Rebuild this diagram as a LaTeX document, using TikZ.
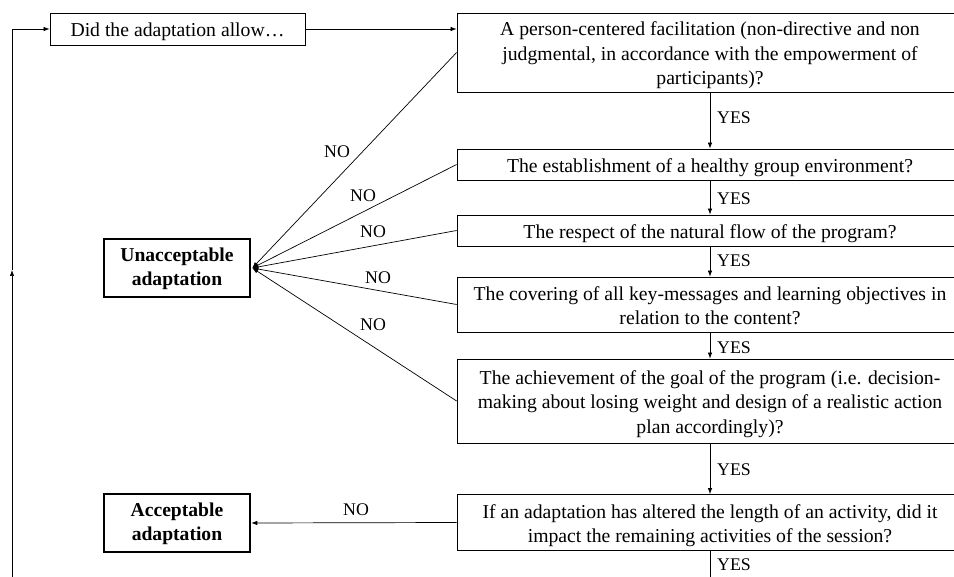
\documentclass[tikz,border=0pt]{standalone}
\usepackage{fontspec}
\setmainfont{Liberation Serif}
\usetikzlibrary{arrows.meta}
\newcommand{\tp}{\rule{0pt}{20pt}}
\newcommand{\bt}{\rule[-4pt]{0pt}{4pt}}
\newcommand{\btp}{\rule{0pt}{16pt}}
\newcommand{\bbt}{\rule[-5pt]{0pt}{5pt}}
\begin{document}
\begin{tikzpicture}[x=1pt,y=-1pt,
  q/.style={draw, line width=0.8pt, minimum width=506pt, align=center, inner sep=0pt, font=\fontsize{19.7}{24.5}\selectfont},
  startbox/.style={draw, line width=0.8pt, minimum width=255pt, minimum height=32pt, inner sep=0pt, text height=20pt, text depth=4pt, font=\fontsize{19.7}{24.5}\selectfont},
  outcome/.style={draw, line width=2.6pt, minimum width=146pt, minimum height=58pt, align=center, inner sep=0pt, font=\fontsize{19.6}{23.5}\selectfont\bfseries},
  lab/.style={font=\fontsize{17.8}{20}\selectfont, inner sep=0pt},
  arr/.style={-{Latex[length=6pt,width=4.5pt]}, line width=0.7pt},
  ln/.style={line width=0.7pt},
]
\useasboundingbox (0,0) rectangle (954,577);
\clip (0,0) rectangle (954,577);

\node[startbox] (start) at (177.5,29) {Did the adaptation allow…};

\node[q, minimum height=79pt] (q1) at (710,52.5) {\tp A person-centered facilitation (non-directive and non\\judgmental, in accordance with the empowerment of\\participants)?\bt};
\node[q, minimum height=31pt] (q2) at (710,164.5) {\tp The establishment of a healthy group environment?\bt};
\node[q, minimum height=31pt] (q3) at (710,230.5) {\tp The respect of the natural flow of the program?\bt};
\node[q, minimum height=55pt] (q4) at (710,304.5) {\tp The covering of all key-messages and learning objectives in\\relation to the content?\bt};
\node[q, minimum height=84pt] (q5) at (710,401) {\tp The achievement of the goal of the program (i.e. decision-\\making about losing weight and design of a realistic action\\plan accordingly)?\bt};
\node[q, minimum height=56pt] (q6) at (710,522.5) {\tp If an adaptation has altered the length of an activity, did it\\impact the remaining activities of the session?\bt};

\node[outcome] (unacc) at (177,268) {\btp Unacceptable\\adaptation\bbt};
\node[outcome] (acc) at (177,523) {\btp Acceptable\\adaptation\bbt};

\coordinate (loopbot) at (12,590);
\coordinate (loopmid) at (12,270);
\coordinate (endbot) at (710,590);

% start flow
\draw[arr] (start.east) -- (start.east -| q1.west);
\draw[arr] (loopbot) -- (loopmid);
\draw[arr] (loopmid) |- (start.west);

% YES chain
\draw[arr] (q1.south) -- (q2.north);
\draw[arr] (q2.south) -- (q3.north);
\draw[arr] (q3.south) -- (q4.north);
\draw[arr] (q4.south) -- (q5.north);
\draw[arr] (q5.south) -- (q6.north);
\draw[ln] (q6.south) -- (endbot);

% NO branches
\foreach \b in {q1,q2,q3,q4,q5}{
  \draw[arr] (\b.west) -- ([xshift=1pt]unacc.east);
}
\draw[arr] (q6.west) -- (acc.east);

% labels
\node[lab] (y1) at (734,118) {YES};
\node[lab] (y2) at (734,199) {YES};
\node[lab] (y3) at (734,261) {YES};
\node[lab] (y4) at (734,348) {YES};
\node[lab] (y5) at (734,470) {YES};
\node[lab] (y6) at (734,565) {YES};

\node[lab] (n1) at (337,152) {NO};
\node[lab] (n2) at (363,196) {NO};
\node[lab] (n3) at (373,232) {NO};
\node[lab] (n4) at (378,278) {NO};
\node[lab] (n5) at (373,325) {NO};
\node[lab] (n6) at (356,510) {NO};
\end{tikzpicture}
\end{document}
